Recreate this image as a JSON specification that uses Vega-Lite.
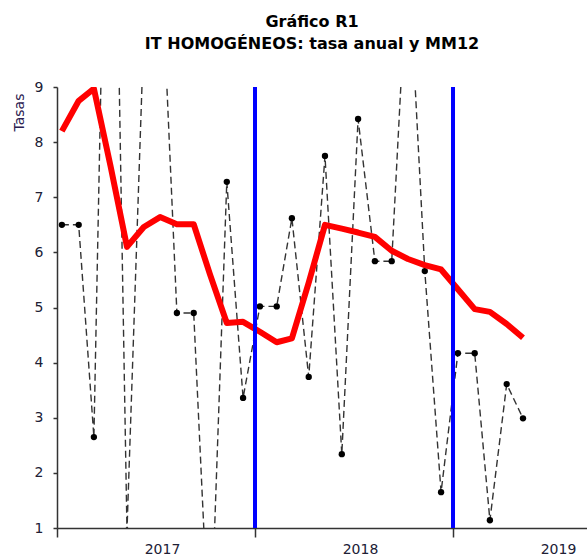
{
  "$schema": "https://vega.github.io/schema/vega-lite/v6.json",
  "width": 530,
  "height": 441,
  "autosize": {"type": "none"},
  "padding": {"left": 57, "top": 87, "right": 0, "bottom": 32},
  "background": "white",
  "title": {
    "text": ["Gráfico R1", "IT HOMOGÉNEOS: tasa anual y MM12"],
    "font": "DejaVu Sans",
    "fontSize": 16,
    "fontWeight": "bold",
    "color": "black",
    "anchor": "middle",
    "dx": -10,
    "offset": 28,
    "lineHeight": 22
  },
  "config": {
    "view": {"stroke": null},
    "axis": {
      "labelFont": "DejaVu Sans",
      "titleFont": "DejaVu Sans",
      "labelFontSize": 14,
      "labelColor": "#202035",
      "domainColor": "#333333",
      "domainWidth": 1.5,
      "tickColor": "#333333",
      "tickWidth": 1.5,
      "grid": false
    }
  },
  "datasets": {
    "serie": [
      {"fecha": "2017-01-10", "tasa": 6.50, "mm12": 8.20},
      {"fecha": "2017-02-10", "tasa": 6.50, "mm12": 8.75},
      {"fecha": "2017-03-10", "tasa": 2.65, "mm12": 8.97},
      {"fecha": "2017-04-10", "tasa": 18.0, "mm12": 7.55},
      {"fecha": "2017-05-10", "tasa": 0.95, "mm12": 6.10},
      {"fecha": "2017-06-10", "tasa": 10.0, "mm12": 6.46},
      {"fecha": "2017-07-10", "tasa": 11.8, "mm12": 6.64},
      {"fecha": "2017-08-10", "tasa": 4.90, "mm12": 6.51},
      {"fecha": "2017-09-10", "tasa": 4.90, "mm12": 6.51},
      {"fecha": "2017-10-10", "tasa": -1.4, "mm12": 5.60},
      {"fecha": "2017-11-10", "tasa": 7.28, "mm12": 4.72},
      {"fecha": "2017-12-10", "tasa": 3.36, "mm12": 4.74},
      {"fecha": "2018-01-10", "tasa": 5.02, "mm12": 4.56},
      {"fecha": "2018-02-10", "tasa": 5.02, "mm12": 4.37},
      {"fecha": "2018-03-10", "tasa": 6.62, "mm12": 4.44},
      {"fecha": "2018-04-10", "tasa": 3.74, "mm12": 5.45},
      {"fecha": "2018-05-10", "tasa": 7.75, "mm12": 6.50},
      {"fecha": "2018-06-10", "tasa": 2.34, "mm12": 6.43},
      {"fecha": "2018-07-10", "tasa": 8.42, "mm12": 6.36},
      {"fecha": "2018-08-10", "tasa": 5.84, "mm12": 6.28},
      {"fecha": "2018-09-10", "tasa": 5.84, "mm12": 6.03},
      {"fecha": "2018-10-10", "tasa": 11.5, "mm12": 5.88},
      {"fecha": "2018-11-10", "tasa": 5.66, "mm12": 5.77},
      {"fecha": "2018-12-10", "tasa": 1.65, "mm12": 5.69},
      {"fecha": "2019-01-10", "tasa": 4.17, "mm12": 5.33},
      {"fecha": "2019-02-10", "tasa": 4.17, "mm12": 4.97},
      {"fecha": "2019-03-10", "tasa": 1.14, "mm12": 4.92},
      {"fecha": "2019-04-10", "tasa": 3.61, "mm12": 4.70},
      {"fecha": "2019-05-10", "tasa": 2.99, "mm12": 4.45}
    ],
    "anios": [
      {"fecha": "2018-01-01"},
      {"fecha": "2019-01-01"}
    ]
  },
  "encoding": {
    "x": {
      "field": "fecha",
      "type": "temporal",
      "scale": {
        "type": "utc",
        "domain": [
          {"year": 2017, "month": 1, "date": 1, "utc": true},
          {"year": 2019, "month": 9, "date": 5, "utc": true}
        ]
      },
      "axis": {
        "title": null,
        "values": [
          {"year": 2017, "month": 1, "date": 1, "utc": true},
          {"year": 2018, "month": 1, "date": 1, "utc": true},
          {"year": 2019, "month": 1, "date": 1, "utc": true}
        ],
        "format": "%Y",
        "labelOffset": 105,
        "labelFlush": false,
        "labelOverlap": false,
        "labelBound": false,
        "tickSize": 9,
        "labelPadding": 5
      }
    }
  },
  "layer": [
    {
      "data": {"name": "serie"},
      "mark": {"type": "line", "clip": true, "color": "#333333", "strokeWidth": 1.4, "strokeDash": [7, 4]},
      "encoding": {
        "y": {
          "field": "tasa",
          "type": "quantitative",
          "scale": {"domain": [1, 9], "nice": false, "zero": false},
          "axis": {
            "values": [1, 2, 3, 4, 5, 6, 7, 8, 9],
            "format": "d",
            "title": "Tasas",
            "titleAnchor": "end",
            "titleFontWeight": "normal",
            "titleFontSize": 14,
            "titleColor": "#2a2050",
            "titlePadding": 8,
            "titleY": 6,
            "tickSize": 4,
            "labelPadding": 10
          }
        }
      }
    },
    {
      "data": {"name": "serie"},
      "mark": {"type": "point", "clip": true, "filled": true, "color": "black", "size": 40, "opacity": 1},
      "encoding": {
        "y": {"field": "tasa", "type": "quantitative"}
      }
    },
    {
      "data": {"name": "serie"},
      "mark": {"type": "line", "clip": true, "color": "#ff0000", "strokeWidth": 6, "strokeJoin": "round", "strokeCap": "butt"},
      "encoding": {
        "y": {"field": "mm12", "type": "quantitative"}
      }
    },
    {
      "data": {"name": "anios"},
      "mark": {"type": "rule", "color": "#0000ff", "strokeWidth": 4},
      "encoding": {}
    }
  ]
}
